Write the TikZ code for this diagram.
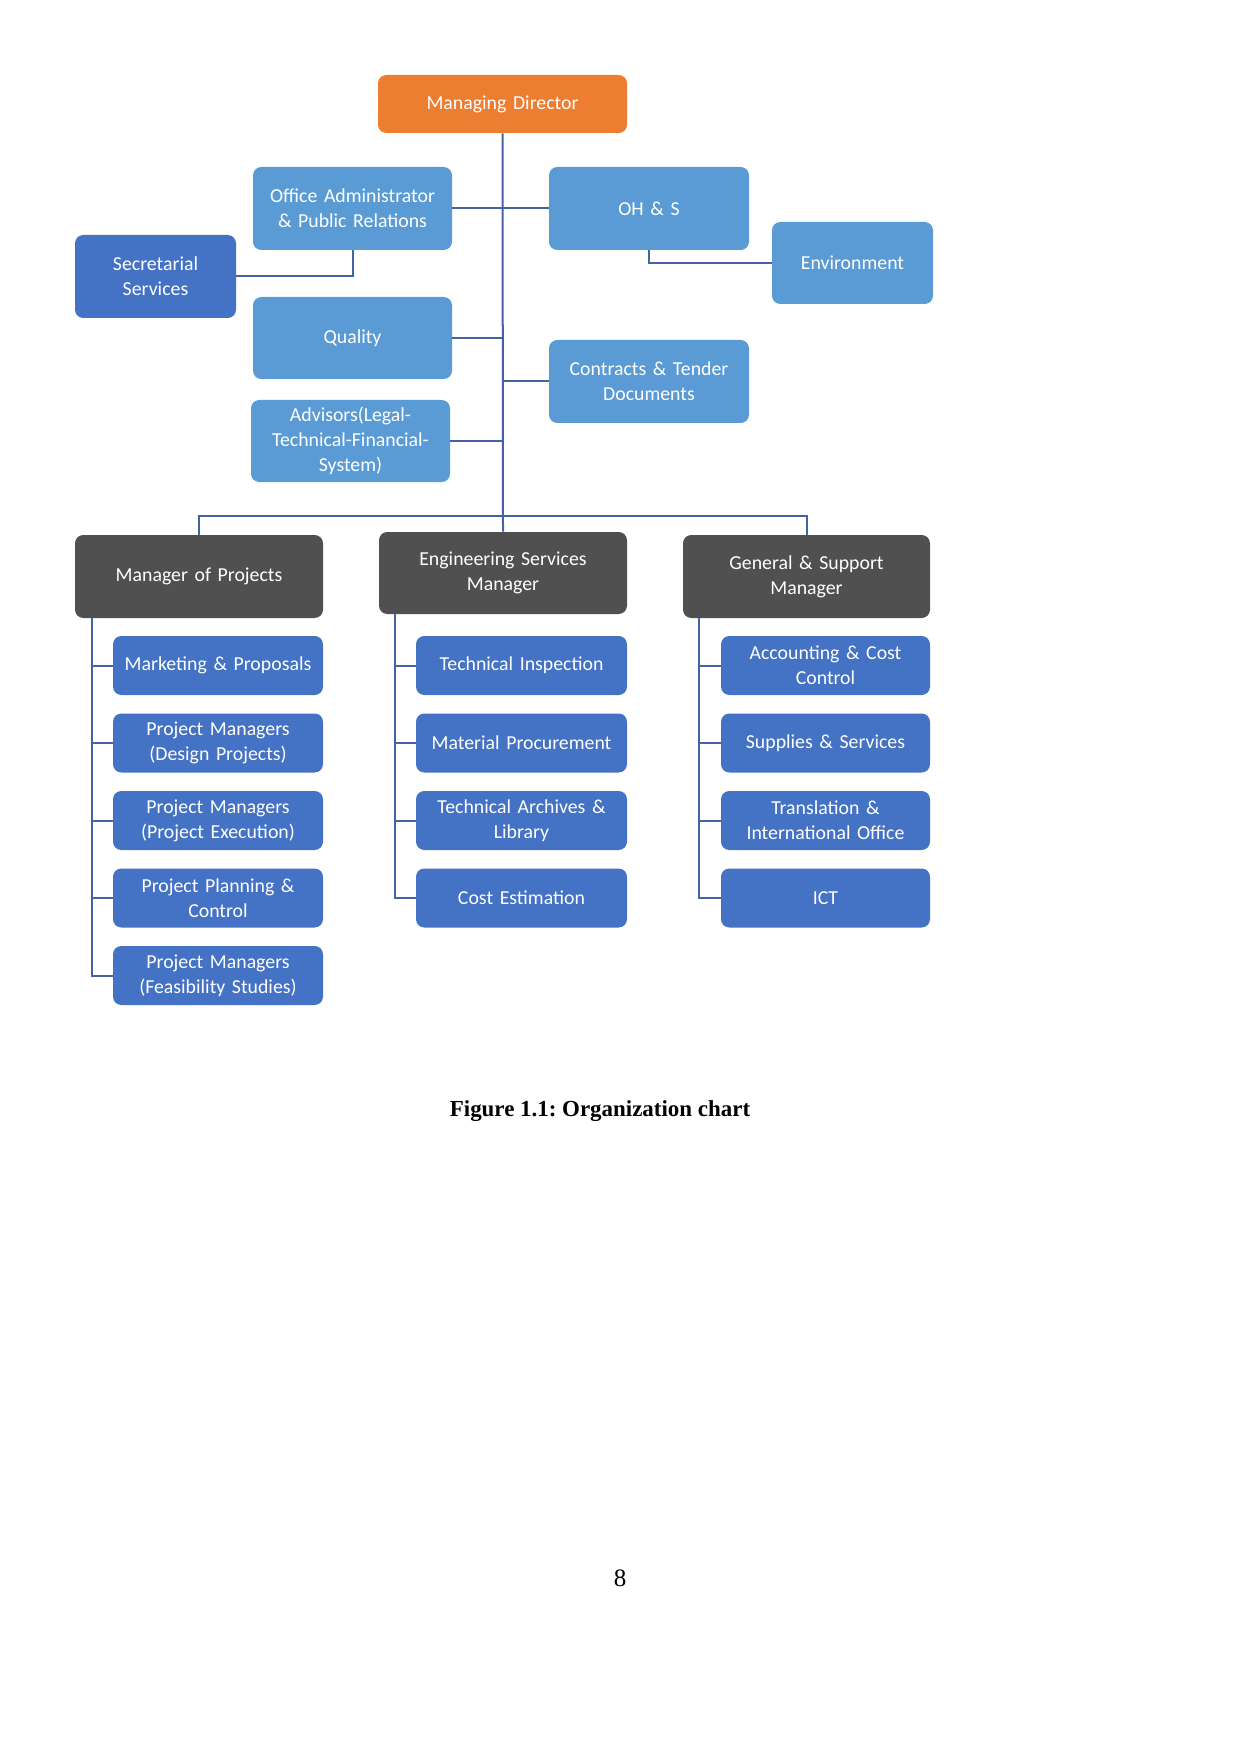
\documentclass[tikz,border=0pt]{standalone}
\usepackage{fontspec}
\setmainfont{Liberation Serif}
\newfontfamily\calfont{Carlito}[WordSpace=0.8]
\definecolor{orgorange}{HTML}{ED7D31}
\definecolor{lightblue}{HTML}{5B9BD5}
\definecolor{darkblue}{HTML}{4472C4}
\definecolor{mgrgray}{HTML}{505050}
\definecolor{linecol}{HTML}{4563A3}
\tikzset{
  box/.style={rounded corners=4pt, inner sep=0pt, align=center, text=white,
    font=\calfont\fontsize{9.5}{12}\selectfont},
  bw/.style 2 args={minimum width=#1*0.4796pt, minimum height=#2*0.4796pt, text width=#1*0.4796pt-6pt},
  orgbox/.style={box, fill=orgorange},
  lbbox/.style={box, fill=lightblue},
  dbbox/.style={box, fill=darkblue},
  mgrbox/.style={box, fill=mgrgray},
  conn/.style={draw=linecol, line width=0.96pt},
}
\begin{document}
\frenchspacing
\begin{tikzpicture}[x=0.4796pt, y=-0.4796pt]
\useasboundingbox (0,0) rectangle (1241,1754);
\coordinate (busL) at (199,516);
\coordinate (busR) at (806.5,516);
\coordinate (lx) at (92,618);
\coordinate (mx) at (395,614);
\coordinate (rx) at (699,618);
% top level
\node[orgbox, bw={249}{58}] (md) at (502.5,104) {Managing Director};
\node[lbbox, bw={199}{83}] (oa) at (352.5,208.5) {Office Administrator\\\& Public Relations};
\node[lbbox, bw={200}{83}] (oh) at (649,208.5) {OH \& S};
\node[lbbox, bw={161}{82}] (env) at (852.5,263) {Environment};
\node[dbbox, bw={161}{83}] (sec) at (155.5,276.5) {Secretarial\\Services};
\node[lbbox, bw={199}{82}] (qual) at (352.5,338) {Quality};
\node[lbbox, bw={200}{83}] (con) at (649,381.5) {Contracts \& Tender\\Documents};
\node[lbbox, bw={199}{82}] (adv) at (350.5,441) {Advisors(Legal-\\Technical-Financial-\\System)};
% managers
\node[mgrbox, bw={248}{83}] (mp) at (199,576.5) {Manager of Projects};
\node[mgrbox, bw={248}{82}] (es) at (503,573) {Engineering Services\\Manager};
\node[mgrbox, bw={247}{83}] (gs) at (806.5,576.5) {General \& Support\\Manager};
% left column
\node[dbbox, bw={210}{59}] (l1) at (218,665.5) {Marketing \& Proposals};
\node[dbbox, bw={210}{59}] (l2) at (218,743) {Project Managers\\(Design Projects)};
\node[dbbox, bw={210}{59}] (l3) at (218,820.5) {Project Managers\\(Project Execution)};
\node[dbbox, bw={210}{59}] (l4) at (218,898) {Project Planning \&\\Control};
\node[dbbox, bw={210}{59}] (l5) at (218,975.5) {Project Managers\\(Feasibility Studies)};
% middle column
\node[dbbox, bw={211}{59}] (m1) at (521.5,665.5) {Technical Inspection};
\node[dbbox, bw={211}{59}] (m2) at (521.5,743) {Material Procurement};
\node[dbbox, bw={211}{59}] (m3) at (521.5,820.5) {Technical Archives \&\\Library};
\node[dbbox, bw={211}{59}] (m4) at (521.5,898) {Cost Estimation};
% right column
\node[dbbox, bw={209}{59}] (r1) at (825.5,665.5) {Accounting \& Cost\\Control};
\node[dbbox, bw={209}{59}] (r2) at (825.5,743) {Supplies \& Services};
\node[dbbox, bw={209}{59}] (r3) at (825.5,820.5) {Translation \&\\International Office};
\node[dbbox, bw={209}{59}] (r4) at (825.5,898) {ICT};
% connectors
\draw[conn] (md.south) -- (es.north);
\draw[conn] (mp.north) |- (busR) -- (gs.north);
\draw[conn] (oa.east) -- (oh.west);
\draw[conn] (oa.south) |- (sec.east);
\draw[conn] (oh.south) |- (env.west);
\draw[conn] (qual.east) -- (qual.east -| md.south);
\draw[conn] (con.west) -- (con.west -| md.south);
\draw[conn] (adv.east) -- (adv.east -| md.south);
\draw[conn] (lx) |- (l5.west);
\foreach \c in {l1,l2,l3,l4} {\draw[conn] (\c.west) -- (\c.west -| lx);}
\draw[conn] (mx) |- (m4.west);
\foreach \c in {m1,m2,m3} {\draw[conn] (\c.west) -- (\c.west -| mx);}
\draw[conn] (rx) |- (r4.west);
\foreach \c in {r1,r2,r3} {\draw[conn] (\c.west) -- (\c.west -| rx);}
% caption and page number
\node[font=\bfseries\fontsize{11}{13}\selectfont] (cap) at (600,1111) {Figure 1.1: Organization chart};
\node[font=\fontsize{12}{14}\selectfont] (pg) at (620,1578) {8};
\end{tikzpicture}
\end{document}
